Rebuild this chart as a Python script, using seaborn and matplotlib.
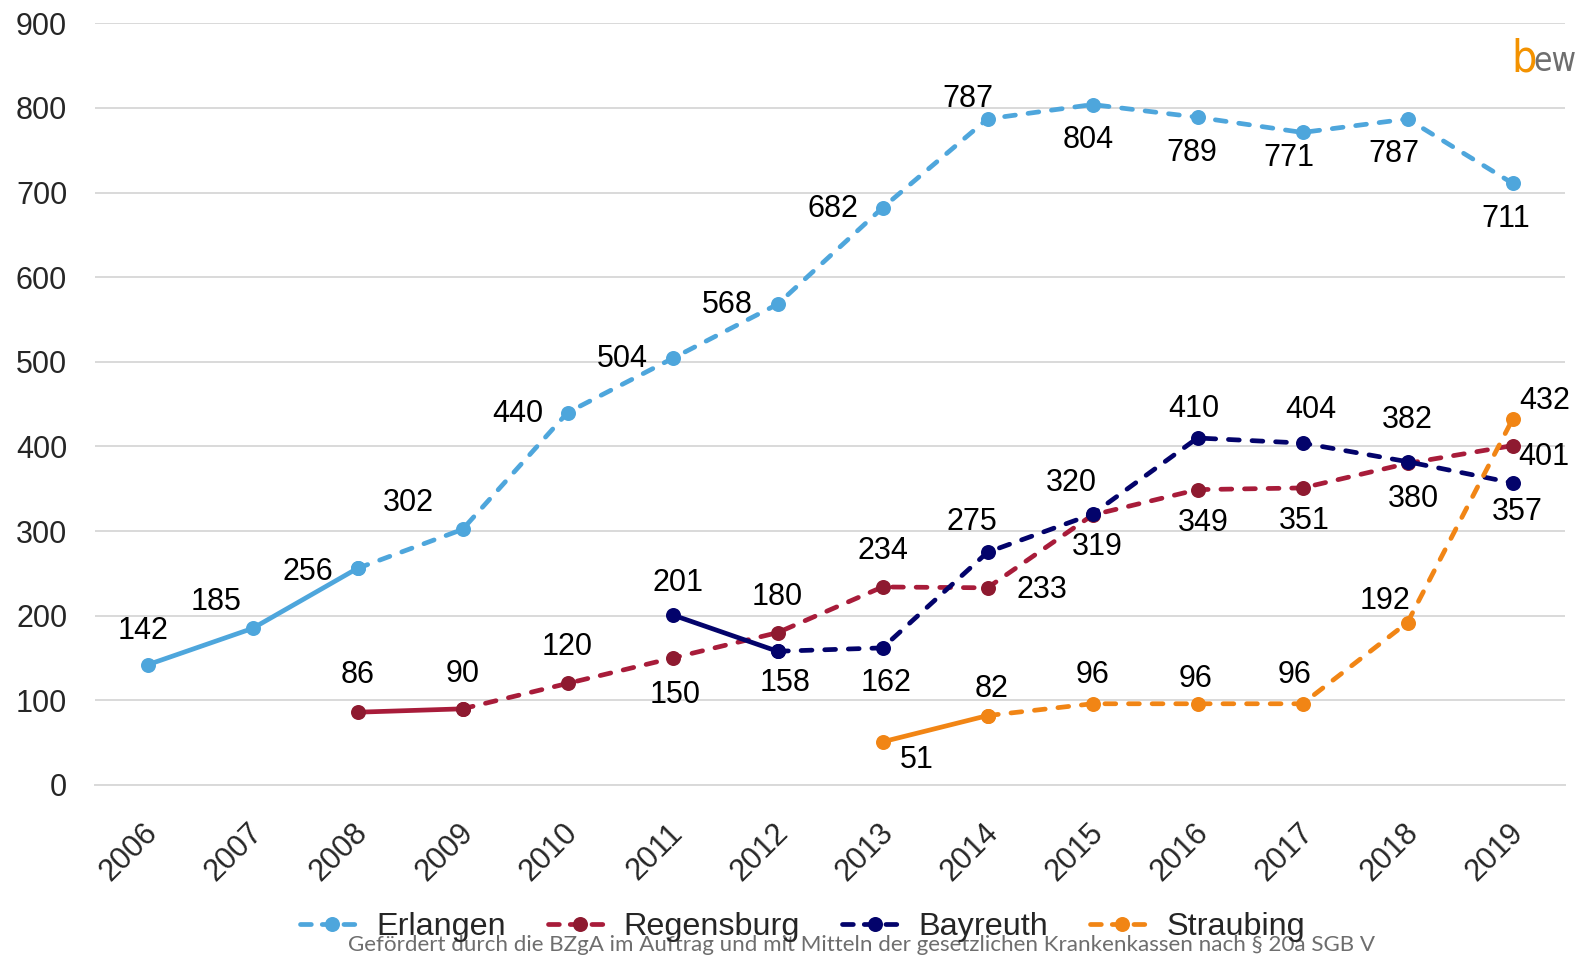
import numpy as np
import pandas as pd
import matplotlib
matplotlib.use("Agg")
import matplotlib.pyplot as plt
from matplotlib.lines import Line2D
from matplotlib.transforms import ScaledTranslation
import seaborn as sns

# ---- data -------------------------------------------------------------
years = list(range(2006, 2020))

erlangen_years = list(range(2006, 2020))
erlangen = [142, 185, 256, 302, 440, 504, 568, 682, 787, 804, 789, 771, 787, 711]

regensburg_years = list(range(2008, 2020))
regensburg = [86, 90, 120, 150, 180, 234, 233, 319, 349, 351, 380, 401]

bayreuth_years = list(range(2011, 2020))
bayreuth = [201, 158, 162, 275, 320, 410, 404, 382, 357]

straubing_years = list(range(2013, 2020))
straubing = [51, 82, 96, 96, 96, 192, 432]

# last year drawn with a solid line; dashed from there on
solid_until = {"Erlangen": 2008, "Regensburg": 2009, "Bayreuth": 2012, "Straubing": 2014}

yticks = [0, 100, 200, 300, 400, 500, 600, 700, 800, 900]
footer = "Gefördert durch die BZgA im Auftrag und mit Mitteln der gesetzlichen Krankenkassen nach § 20a SGB V"

# ---- label placement (pixel offsets from each point) ------------------
erlangen_off = [(-4, -34), (-36, -26), (-50, 4), (-54, -26), (-50, 1), (-50, 1), (-50, 1),
                (-50, 1), (-20, -20), (-4, 35), (-6, 36), (-14, 26), (-14, 35), (-7, 36)]
regensburg_off = [(0, -37), (0, -35), (0, -36), (3, 37), (0, -36), (0, -36), (54, 2),
                  (5, 32), (6, 33), (2, 33), (6, 36), (31, 11)]
bayreuth_off = [(6, -32), (8, 32), (4, 35), (-16, -30), (-21, -31), (-4, -29), (8, -33),
                (0, -42), (5, 29)]
straubing_off = [(34, 18), (4, -27), (0, -29), (-2, -25), (-8, -29), (-23, -22), (32, -18)]

colors = {
    "Erlangen": "#4EA6DC",
    "Regensburg": "#A81C3A",
    "Bayreuth": "#03036B",
    "Straubing": "#F18515",
}
marker_colors = {
    "Erlangen": "#4EA6DC",
    "Regensburg": "#8E1A30",
    "Bayreuth": "#03036B",
    "Straubing": "#F18515",
}

series = [
    ("Erlangen", erlangen_years, erlangen, erlangen_off),
    ("Regensburg", regensburg_years, regensburg, regensburg_off),
    ("Bayreuth", bayreuth_years, bayreuth, bayreuth_off),
    ("Straubing", straubing_years, straubing, straubing_off),
]

# ---- style --------------------------------------------------------------
sns.set_style("white")
plt.rcParams["font.family"] = ["Liberation Sans", "DejaVu Sans"]

fig = plt.figure(figsize=(15.81, 9.59), dpi=100)
ax = fig.add_axes([95 / 1581, 1 - 785 / 959, (1565 - 95) / 1581, (785 - 23.3) / 959])

LW = 3.4
DASH = (0, (2.3, 2.7))
MS = 10.8
FS = 22

line_kw = dict(linewidth=LW, marker="o", markersize=MS, markeredgewidth=0,
               solid_capstyle="round", dash_capstyle="round")

for name, yrs, vals, offs in series:
    df = pd.DataFrame({"year": yrs, "value": vals})
    df["pos"] = df["year"] - years[0]
    cut = solid_until[name]
    solid = df[df["year"] <= cut]
    dashed = df[df["year"] >= cut]
    sns.lineplot(data=dashed, x="pos", y="value", ax=ax, color=colors[name],
                 linestyle=DASH, markerfacecolor=marker_colors[name],
                 markeredgecolor=marker_colors[name], zorder=3, **line_kw)
    sns.lineplot(data=solid, x="pos", y="value", ax=ax, color=colors[name],
                 linestyle="-", markerfacecolor=marker_colors[name],
                 markeredgecolor=marker_colors[name], zorder=4, **line_kw)
    for p, v, (dx, dy) in zip(df["pos"], df["value"], offs):
        ax.annotate(str(v), (p, v), xytext=(dx, -dy), textcoords="offset pixels",
                    ha="center", va="center", fontsize=FS, color="black", zorder=5)

# ---- axes -------------------------------------------------------------
ax.set_xlim(-0.5, len(years) - 0.5)
ax.set_ylim(0, 900)
ax.set_yticks(yticks)
ax.set_yticklabels([str(t) for t in yticks], fontsize=FS)
ax.yaxis.grid(True, color="#D9D9D9", linewidth=1.4)
ax.set_axisbelow(True)
ax.tick_params(axis="y", length=0, pad=20)

ax.set_xticks(np.arange(-0.5, len(years), 1.0))
ax.set_xticklabels([])
ax.set_xticks(np.arange(len(years)), minor=True)
ax.set_xticklabels([str(y) for y in years], minor=True, fontsize=FS, rotation=45,
                   ha="right", va="center", rotation_mode="anchor")
ax.tick_params(axis="x", which="major", length=6, width=1.4, color="#D9D9D9", direction="out")
ax.tick_params(axis="x", which="minor", length=0, pad=30)
shift = ScaledTranslation(6 / 100, -2 / 100, fig.dpi_scale_trans)
for lbl in ax.get_xticklabels(minor=True):
    lbl.set_transform(lbl.get_transform() + shift)

for s in ("left", "right", "top"):
    ax.spines[s].set_visible(False)
ax.spines["bottom"].set_color("#D9D9D9")
ax.spines["bottom"].set_linewidth(1.4)
ax.set_xlabel("")
ax.set_ylabel("")

# ---- legend -------------------------------------------------------------
handles = [Line2D([], [], color=colors[n], linewidth=LW, linestyle=(0, (2.3, 2.3)),
                  dash_capstyle="round", marker="o", markersize=MS,
                  markerfacecolor=marker_colors[n], markeredgewidth=0)
           for n, *_ in series]
fig.legend(handles, [n for n, *_ in series], loc="center", bbox_to_anchor=(0.5075, 1 - 927 / 959),
           ncol=4, frameon=False, fontsize=23.3, handlelength=2.0, handletextpad=0.35,
           columnspacing=1.3, borderpad=0)

# ---- footer and logo ------------------------------------------------------
fig.text(862 / 1581, 1 - 945 / 959, footer, ha="center", va="center", fontsize=16.1,
         color="#6E6E6E", family=["Lato", "DejaVu Sans"])
fig.text(1511 / 1581, 1 - 71 / 959, "b", ha="left", va="baseline", fontsize=32,
         color="#F39200", family="DejaVu Sans", fontstretch="condensed")
fig.text(1533 / 1581, 1 - 71 / 959, "ew", ha="left", va="baseline", fontsize=24,
         color="#6E6E6E", family="DejaVu Sans", fontstretch="condensed")

fig.savefig("out.png", dpi=100)
